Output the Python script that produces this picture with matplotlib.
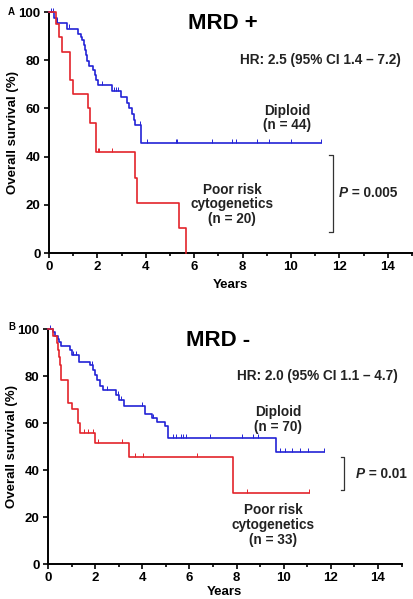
import numpy as np
import matplotlib
matplotlib.use("Agg")
import matplotlib.pyplot as plt

plt.rcParams['font.family'] = ['Liberation Sans', 'DejaVu Sans']
plt.rcParams['font.weight'] = 'bold'

RED = '#e3242b'
BLUE = '#2323d6'

# ---------------- panel A (MRD +) ----------------
a_dip_t = [0, 0.22, 0.32, 0.73, 1.21, 1.32, 1.37, 1.43, 1.48, 1.54, 1.59, 1.66,
           1.82, 1.90, 1.96, 2.03, 2.59, 2.96, 3.24, 3.32, 3.44, 3.51, 3.57, 3.79]
a_dip_s = [100, 97.6, 95.6, 93.1, 91.0, 89.6, 88.4, 86.3, 84.1, 82.0, 79.8, 77.6,
           75.8, 73.9, 71.8, 69.7, 67.3, 64.7, 62.4, 60.0, 57.5, 55.1, 53.1, 45.6]
a_dip_end = 11.24
a_dip_cens = [0.1, 0.15, 0.35, 0.83, 2.2, 2.68, 2.75, 2.84, 3.76, 4.06, 5.24, 5.30,
              6.75, 7.57, 7.73, 8.58, 9.10, 10.0, 11.24]

a_poor_t = [0, 0.30, 0.43, 0.52, 0.87, 0.98, 1.62, 1.70, 1.93, 3.57, 3.64, 5.36, 5.65]
a_poor_s = [100, 95, 89.5, 83.5, 72, 66, 60, 54, 41.8, 31.2, 20.8, 10.4, 0]
a_poor_end = 5.65
a_poor_cens = [2.04, 2.08, 2.59]

# ---------------- panel B (MRD -) ----------------
b_dip_t = [0, 0.23, 0.30, 0.41, 0.48, 0.56, 0.93, 1.0, 1.33, 1.78, 1.92, 1.99, 2.10,
           2.20, 2.32, 2.89, 3.0, 3.24, 4.11, 4.42, 4.62, 4.98, 5.08, 9.66]
b_dip_s = [100, 98.6, 97.1, 95.7, 94.3, 92.8, 91.2, 88.9, 86.1, 84.6, 82.5, 80.6, 78.3,
           75.7, 73.9, 71.9, 69.8, 67.2, 64.0, 62.2, 60.6, 58.6, 53.7, 47.8]
b_dip_end = 11.72
b_dip_cens = [0.1, 1.08, 1.2, 1.85, 2.5, 2.95, 3.1, 4.0, 4.46, 5.31, 5.42, 5.64, 5.73,
              5.85, 6.86, 8.25, 8.70, 8.91, 9.83, 10.04, 10.33, 10.69, 11.04, 11.72]

b_poor_t = [0, 0.22, 0.37, 0.41, 0.48, 0.51, 0.55, 0.86, 1.03, 1.29, 1.36, 1.99, 3.43, 7.85]
b_poor_s = [100, 97, 94, 91, 87.9, 84.6, 78.5, 68.6, 65.8, 60.0, 55.6, 51.5, 45.4, 30.3]
b_poor_end = 11.07
b_poor_cens = [1.53, 1.70, 1.91, 2.13, 3.15, 3.69, 4.04, 6.34, 8.45, 11.07]

xticks = [0, 2, 4, 6, 8, 10, 12, 14]
yticks = [0, 20, 40, 60, 80, 100]


def km(ax, t, s, end, cens, color):
    t2 = list(t) + [end]
    s2 = list(s) + [s[-1]]
    ax.step(t2, s2, where='post', color=color, lw=1.2, clip_on=False, zorder=3)
    idx = np.searchsorted(t, cens, side='right') - 1
    cy = np.array(s)[idx]
    ax.plot(cens, cy + 0.9, ls='none', marker='|', ms=3.5, mew=0.7,
            color=color, clip_on=False, zorder=3)


def style(ax, xpad):
    ax.set_xlim(0, 15)
    ax.set_ylim(0, 100)
    ax.spines['top'].set_visible(False)
    ax.spines['right'].set_visible(False)
    ax.spines['left'].set_linewidth(1.4)
    ax.spines['bottom'].set_linewidth(1.4)
    ax.set_xticks(xticks)
    ax.set_xticks(np.arange(1, 16, 2), minor=True)
    ax.set_yticks(yticks)
    ax.tick_params(axis='both', which='major', length=3.5, width=1.2,
                   labelsize=9.5, pad=2.5)
    ax.tick_params(axis='x', which='minor', length=2.5, width=1.2)
    for lab in ax.get_xticklabels() + ax.get_yticklabels():
        lab.set_fontweight('bold')
    ax.set_xlabel('Years', fontsize=9.5, fontweight='bold', labelpad=xpad)
    ax.set_ylabel('Overall survival (%)', fontsize=9.5, fontweight='bold', labelpad=0)


def bracket(ax, x, y0, y1):
    ax.plot([x - 0.15, x, x, x - 0.15], [y1, y1, y0, y0], color='#333333', lw=0.9)


def pvalue(ax, x, y, txt):
    ax.text(x, y, 'P', fontsize=9.8, fontweight='bold', fontstyle='italic',
            va='center', ha='left', color='#222222')
    ax.annotate(' = ' + txt, (x, y), xytext=(6.6, 0), textcoords='offset points',
                fontsize=9.8, fontweight='bold', va='center', ha='left',
                color='#222222')


fig = plt.figure(figsize=(4.13, 5.99), dpi=100)

axA = fig.add_axes([0.1186, 0.5776, 0.8789, 0.4023])
style(axA, 4)
km(axA, a_dip_t, a_dip_s, a_dip_end, a_dip_cens, BLUE)
km(axA, a_poor_t, a_poor_s, a_poor_end, a_poor_cens, RED)
axA.text(7.2, 95.4, 'MRD +', fontsize=16, fontweight='bold', ha='center', va='center')
axA.text(11.2, 80, 'HR: 2.5 (95% CI 1.4 \u2013 7.2)', fontsize=9.8,
         fontweight='bold', ha='center', va='center', color='#222222')
axA.text(9.83, 56, 'Diploid\n(n = 44)', fontsize=9.8, fontweight='bold',
         ha='center', va='center', linespacing=1.05, color='#222222')
axA.text(7.56, 20.3, 'Poor risk\ncytogenetics\n(n = 20)', fontsize=9.8,
         fontweight='bold', ha='center', va='center', linespacing=1.05, color='#222222')
bracket(axA, 11.74, 8.7, 40.7)
pvalue(axA, 11.98, 24.9, '0.005')

axB = fig.add_axes([0.1162, 0.0584, 0.8562, 0.3923])
style(axB, 1)
km(axB, b_dip_t, b_dip_s, b_dip_end, b_dip_cens, BLUE)
km(axB, b_poor_t, b_poor_s, b_poor_end, b_poor_cens, RED)
axB.text(7.2, 95.3, 'MRD -', fontsize=16, fontweight='bold', ha='center', va='center')
axB.text(11.43, 80, 'HR: 2.0 (95% CI 1.1 \u2013 4.7)', fontsize=9.8,
         fontweight='bold', ha='center', va='center', color='#222222')
axB.text(9.76, 61.5, 'Diploid\n(n = 70)', fontsize=9.8, fontweight='bold',
         ha='center', va='center', linespacing=1.05, color='#222222')
axB.text(9.55, 16.6, 'Poor risk\ncytogenetics\n(n = 33)', fontsize=9.8,
         fontweight='bold', ha='center', va='center', linespacing=1.05, color='#222222')
bracket(axB, 12.56, 31.5, 45.5)
pvalue(axB, 13.07, 38.3, '0.01')

fig.text(8 / 413, 1 - 12 / 599, 'A', fontsize=7, fontweight='bold', va='center')
fig.text(8 / 413, 1 - 327 / 599, 'B', fontsize=7, fontweight='bold', va='center')

fig.savefig('out.png', dpi=100)
